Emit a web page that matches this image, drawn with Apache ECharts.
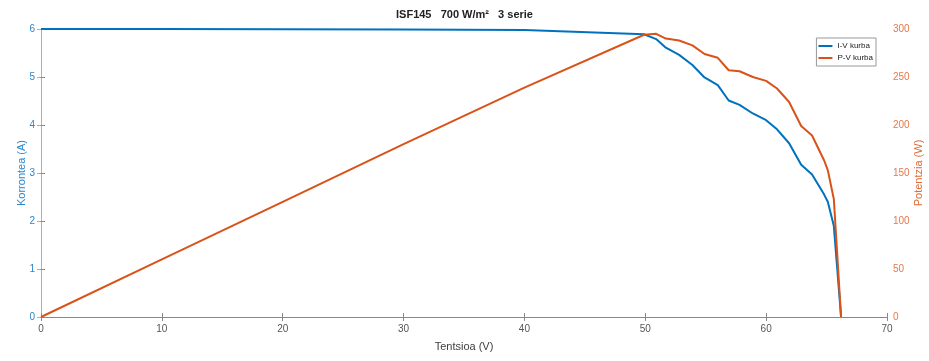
<!DOCTYPE html>
<html>
<head>
<meta charset="utf-8">
<script src="https://cdn.jsdelivr.net/npm/echarts@6/dist/echarts.min.js"></script>
<style>
html,body{margin:0;padding:0;background:#fff;}
#chart{width:929px;height:361px;}
</style>
</head>
<body>
<div id="chart"></div>
<script>
var voltage = [0,10,20,30,40,49.9,50.9,51.7,52.8,53.9,54.9,56.0,56.9,57.8,58.9,60.0,60.9,61.9,62.9,63.8,64.8,65.1,65.6,66.2];
var current = [6.00,6.00,5.995,5.99,5.98,5.89,5.79,5.61,5.46,5.25,4.99,4.83,4.51,4.42,4.24,4.10,3.91,3.62,3.17,2.97,2.55,2.40,1.90,0];
var power   = [0,60,120,180,239,294,295,290,288,283,274,270,257,256,250,246,238,224,199,189,163,153,123,0];
var seriesNames = ['I-V kurba','P-V kurba'];
var titleText = 'ISF145   700 W/m\u00B2   3 serie';

var blue = '#0072BD', orange = '#D95319';
var ff = 'Liberation Sans, Arial, sans-serif';

function pairs(xs, ys){ return xs.map(function(x,i){ return [x, ys[i]]; }); }

var chart = echarts.init(document.getElementById('chart'));
chart.setOption({
  animation:false,
  backgroundColor:'#fff',
  textStyle:{fontFamily:ff},
  title:{text:titleText,left:'center',top:4,textStyle:{fontSize:11,fontWeight:'bold',color:'#222',fontFamily:ff}},
  legend:{
    orient:'vertical',right:53,top:38,
    borderColor:'#999',borderWidth:1,backgroundColor:'#fff',
    padding:[4,3,4,2],itemGap:4,itemWidth:14,itemHeight:2,icon:'rect',
    textStyle:{fontSize:8,color:'#222',fontFamily:ff},
    data:seriesNames
  },
  grid:{left:41,right:42,top:29,bottom:44,outerBoundsMode:'none',containLabel:false},
  xAxis:[{
    type:'value',min:0,max:70,interval:10,
    name:'Tentsioa (V)',nameLocation:'middle',nameGap:24,nameMoveOverlap:false,
    nameTextStyle:{fontSize:11,color:'#404040',fontFamily:ff},
    axisLine:{lineStyle:{color:'#888',width:1}},
    axisTick:{inside:true,length:4,lineStyle:{color:'#888'}},
    axisLabel:{color:'#555',fontSize:10,margin:7,fontFamily:ff},
    splitLine:{show:false}
  },{
    type:'value',min:0,max:70,interval:10,position:'top',
    axisLine:{lineStyle:{color:'#888',width:1}},
    axisTick:{inside:true,length:4,lineStyle:{color:'#888'}},
    axisLabel:{show:false},
    splitLine:{show:false}
  }],
  yAxis:[{
    type:'value',min:0,max:6,interval:1,position:'left',
    name:'Korrontea (A)',nameLocation:'middle',nameGap:14,nameMoveOverlap:false,
    nameTextStyle:{fontSize:11,color:'#2a86cc',fontFamily:ff},
    axisLine:{show:true,lineStyle:{color:'#4a98d6',width:1}},
    axisTick:{show:true,inside:true,length:4,lineStyle:{color:'#4a98d6'}},
    axisLabel:{color:'#2a86cc',fontSize:10,margin:6,fontFamily:ff},
    splitLine:{show:false}
  },{
    type:'value',min:0,max:300,interval:50,position:'right',
    name:'Potentzia (W)',nameLocation:'middle',nameGap:26,nameRotate:90,nameMoveOverlap:false,
    nameTextStyle:{fontSize:11,color:'#e06a36',fontFamily:ff},
    axisLine:{show:true,lineStyle:{color:'#ee9a78',width:1}},
    axisTick:{show:true,inside:true,length:4,lineStyle:{color:'#ee9a78'}},
    axisLabel:{color:'#e8784a',fontSize:10,margin:6,fontFamily:ff},
    splitLine:{show:false}
  }],
  series:[{
    name:seriesNames[0],type:'line',xAxisIndex:0,yAxisIndex:0,
    data:pairs(voltage,current),showSymbol:false,
    lineStyle:{color:blue,width:2},itemStyle:{color:blue}
  },{
    name:seriesNames[1],type:'line',xAxisIndex:0,yAxisIndex:1,
    data:pairs(voltage,power),showSymbol:false,
    lineStyle:{color:orange,width:2},itemStyle:{color:orange}
  }]
});
</script>
</body>
</html>
